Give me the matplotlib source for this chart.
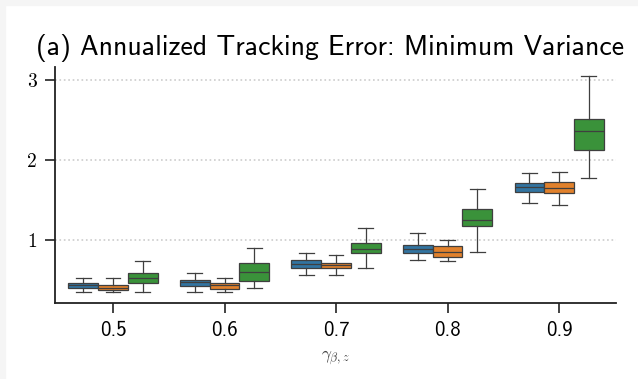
import matplotlib
matplotlib.use("Agg")
import matplotlib.pyplot as plt
from matplotlib.patches import Rectangle

plt.rcParams['mathtext.fontset'] = 'cm'
plt.rcParams['axes.unicode_minus'] = False

# gamma levels on the x axis
gammas = ["0.5", "0.6", "0.7", "0.8", "0.9"]
colors = ["#3274a1", "#e1812c", "#3a923a"]

# box stats, one list per series (blue, orange, green)
whislo = [[0.35, 0.35, 0.56, 0.75, 1.46],
          [0.35, 0.35, 0.56, 0.73, 1.44],
          [0.35, 0.40, 0.65, 0.85, 1.77]]
q1 = [[0.40, 0.42, 0.65, 0.83, 1.60],
      [0.375, 0.39, 0.65, 0.79, 1.58],
      [0.46, 0.48, 0.83, 1.17, 2.12]]
med = [[0.43, 0.47, 0.70, 0.89, 1.66],
       [0.40, 0.43, 0.68, 0.85, 1.65],
       [0.52, 0.60, 0.89, 1.25, 2.36]]
q3 = [[0.46, 0.50, 0.75, 0.94, 1.71],
      [0.44, 0.46, 0.71, 0.92, 1.72],
      [0.58, 0.71, 0.96, 1.38, 2.51]]
whishi = [[0.52, 0.58, 0.83, 1.08, 1.83],
          [0.52, 0.52, 0.81, 1.00, 1.85],
          [0.73, 0.90, 1.15, 1.63, 3.05]]

fig = plt.figure(figsize=(6.38, 3.79), dpi=100)
fig.patch.set_facecolor("white")
# light gray frame at left/top like the screenshot
fig.patches.append(Rectangle((0, 0), 5 / 638, 1, transform=fig.transFigure, color="#f5f5f5", zorder=0))
fig.patches.append(Rectangle((0, 1 - 5 / 379), 1, 5 / 379, transform=fig.transFigure, color="#f5f5f5", zorder=0))

ax = fig.add_axes([55 / 638, (379 - 303) / 379, (616 - 55) / 638, (303 - 67) / 379])

w = 0.8 / 3
for s in range(3):
    stats = []
    for i in range(len(gammas)):
        stats.append(dict(whislo=whislo[s][i], q1=q1[s][i], med=med[s][i],
                          q3=q3[s][i], whishi=whishi[s][i], fliers=[]))
    pos = [i - 0.4 + w * (s + 0.5) for i in range(len(gammas))]
    ax.bxp(stats, positions=pos, widths=w, patch_artist=True, showfliers=False,
           boxprops=dict(facecolor=colors[s], edgecolor="#3f3f3f", linewidth=0.9),
           medianprops=dict(color="#3f3f3f", linewidth=0.9),
           whiskerprops=dict(color="#3f3f3f", linewidth=0.9),
           capprops=dict(color="#3f3f3f", linewidth=0.9),
           capwidths=w / 2, manage_ticks=False)

ax.set_xlim(-0.52, 4.51)
ax.set_ylim(0.21, 3.16)
ax.set_xticks(range(len(gammas)))
ax.set_xticklabels(gammas, family="cmss10", fontsize=15)
ax.set_yticks([1, 2, 3])
ax.set_yticklabels(["1", "2", "3"], family="cmr10", fontsize=14)
ax.tick_params(length=7, width=1.2, color="#222222", pad=6)
for sp in ["top", "right"]:
    ax.spines[sp].set_visible(False)
for sp in ["left", "bottom"]:
    ax.spines[sp].set_linewidth(1.3)
    ax.spines[sp].set_color("#222222")
ax.yaxis.grid(True, linestyle=":", color="#cccccc", linewidth=1.2)
ax.set_axisbelow(True)

ax.set_xlabel(r"$\gamma_{\beta,z}$", fontsize=12.5, labelpad=6, color="#444444")
ax.set_title("(a) Annualized Tracking Error: Minimum Variance", family="cmss10",
             fontsize=20, pad=9, x=0.49)

fig.savefig("out.png", dpi=100)
